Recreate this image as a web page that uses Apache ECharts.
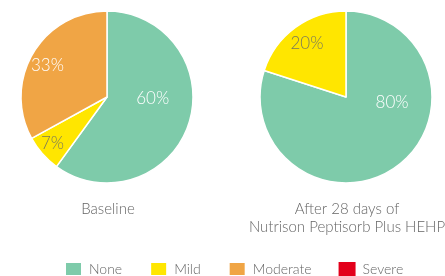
<!DOCTYPE html>
<html><head><meta charset="utf-8">
<script src="https://cdn.jsdelivr.net/npm/echarts@6/dist/echarts.min.js"></script>
<style>html,body{margin:0;padding:0;background:#fff}#c{width:445px;height:276px}</style>
</head><body><div id="c"></div>
<script>
const categories = ['None', 'Mild', 'Moderate', 'Severe'];
const baselineValues = [60, 7, 33, 0];
const afterValues = [80, 20, 0, 0];
const chartTitles = ['Baseline', 'After 28 days of\nNutrison Peptisorb Plus HEHP'];
const colors = ['#7ECBAA', '#FFE600', '#F0A545', '#E3001B'];
const labelColors = ['#ffffff', '#7a7a5a', '#ffffff', '#ffffff'];

const FONT = 'Lato';
const leftOffsets = {0: [2, -13], 1: [-20, 16], 2: [-20, -8]};
const rightOffsets = {0: [19, -32], 1: [-12, -16]};

function buildData(vals) {
  return categories.map((c, i) => ({
    name: c, value: vals[i],
    itemStyle: {color: colors[i]},
    label: {color: labelColors[i]}
  })).filter(d => d.value > 0);
}
function layoutFn(offsets) {
  return function (p) {
    const o = offsets[p.dataIndex] || [0, 0];
    return {dx: o[0], dy: o[1]};
  };
}
const pieBase = {
  type: 'pie', radius: 86, startAngle: 90, clockwise: true,
  avoidLabelOverlap: false, silent: true,
  itemStyle: {borderColor: '#fff', borderWidth: 1.5},
  label: {position: 'inside', formatter: '{c}%', fontFamily: FONT, fontSize: 17, fontWeight: 300},
  labelLine: {show: false},
  emphasis: {disabled: true}
};
const titleStyle = {fontFamily: FONT, fontSize: 15, fontWeight: 300, color: '#666', lineHeight: 18};
const chart = echarts.init(document.getElementById('c'));
chart.setOption({
  animation: false,
  color: colors,
  title: [
    {text: chartTitles[0], left: 108, top: 200, padding: 0, textAlign: 'center', textStyle: titleStyle},
    {text: chartTitles[1], left: 347, top: 200, padding: 0, textAlign: 'center', textStyle: titleStyle}
  ],
  legend: {
    data: categories, left: 64, top: 261, padding: 0, itemWidth: 17, itemHeight: 14, itemGap: 27,
    icon: 'rect', selectedMode: false,
    textStyle: {fontFamily: FONT, fontSize: 14, fontWeight: 300, color: '#666', padding: [0, 0, 0, 2]}
  },
  series: [
    Object.assign({}, pieBase, {center: [107, 97], data: buildData(baselineValues), labelLayout: layoutFn(leftOffsets)}),
    Object.assign({}, pieBase, {center: [346, 97], data: buildData(afterValues), labelLayout: layoutFn(rightOffsets)}),
    {type: 'pie', radius: 0, center: [-100, -100], data: categories.map((c, i) => ({name: c, value: 1, itemStyle: {color: colors[i]}})), label: {show: false}, silent: true}
  ]
});
</script></body></html>
